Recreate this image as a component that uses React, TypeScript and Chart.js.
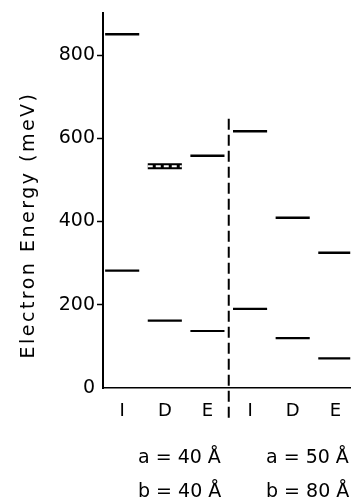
import React, { useEffect, useRef } from "react";
import { Chart, registerables } from "chart.js";

Chart.register(...registerables);

// Column categories (two sample groups separated by the dashed line)
const columnLabels = ["I", "D", "E", "I", "D", "E"];
// Energy levels (meV)
const upperLevels = [850, 533, 558, 617, 409, 325];
const lowerLevels = [282, 162, 137, 190, 120, 71];
const yTickValues = [0, 200, 400, 600, 800];
const groupLabelsA = ["a = 40 Å", "a = 50 Å"];
const groupLabelsB = ["b = 40 Å", "b = 80 Å"];
const yTitle = "Electron Energy (meV)";
const hatchedColumn = 1;
const dividerValueTop = 647;
const dividerValueBottom = -77;

const FONT = "'DejaVu Sans', sans-serif";

export default function App() {
  const ref = useRef<HTMLCanvasElement | null>(null);

  useEffect(() => {
    if (!ref.current) return;
    const datasets: any[] = [];
    const seg = (c: number, v: number) => [
      { x: c + 0.05, y: v },
      { x: c + 0.85, y: v },
    ];
    upperLevels.forEach((v, i) => {
      if (i === hatchedColumn) {
        datasets.push({ data: seg(i, v), borderColor: "#fff", borderWidth: 2, borderDash: [5, 3], pointRadius: 0, order: 0 });
        datasets.push({ data: seg(i, v), borderColor: "#000", borderWidth: 6, pointRadius: 0, order: 1 });
      } else {
        datasets.push({ data: seg(i, v), borderColor: "#000", borderWidth: 2.5, pointRadius: 0, order: 1 });
      }
    });
    lowerLevels.forEach((v, i) => {
      datasets.push({ data: seg(i, v), borderColor: "#000", borderWidth: 2.2, pointRadius: 0, order: 1 });
    });
    datasets.push({
      data: [
        { x: 2.95, y: dividerValueTop },
        { x: 2.95, y: dividerValueBottom },
      ],
      borderColor: "#000",
      borderWidth: 2,
      borderDash: [11, 5],
      pointRadius: 0,
      clip: false,
      order: 1,
    });

    const textPlugin = {
      id: "texts",
      afterDraw(chart: any) {
        const ctx = chart.ctx;
        ctx.save();
        ctx.fillStyle = "#000";
        ctx.font = `19px ${FONT}`;
        (ctx as any).letterSpacing = "2.5px";
        ctx.translate(29, 225);
        ctx.rotate(-Math.PI / 2);
        ctx.textAlign = "center";
        ctx.textBaseline = "middle";
        ctx.fillText(yTitle, 0, 0);
        ctx.restore();

        ctx.save();
        ctx.fillStyle = "#000";
        ctx.font = `19px ${FONT}`;
        ctx.textAlign = "left";
        ctx.textBaseline = "alphabetic";
        const xs = [138, 266];
        groupLabelsA.forEach((t, i) => ctx.fillText(t, xs[i], 463));
        groupLabelsB.forEach((t, i) => ctx.fillText(t, xs[i], 497));
        ctx.restore();
      },
    };

    const chart = new Chart(ref.current, {
      type: "line",
      data: { datasets },
      plugins: [textPlugin],
      options: {
        animation: false,
        responsive: false,
        layout: { padding: { top: 11, right: 0, left: 0, bottom: 0 } },
        plugins: { legend: { display: false }, tooltip: { enabled: false } },
        scales: {
          x: {
            type: "linear",
            min: 0,
            max: 5.8,
            afterBuildTicks: (s: any) => {
              s.ticks = columnLabels.map((_, i) => ({ value: i + 0.45 }));
            },
            afterFit: (s: any) => {
              s.height = 116;
            },
            ticks: {
              callback: (_v: any, i: number) => columnLabels[i],
              color: "#000",
              font: { family: FONT, size: 18 },
              padding: 13,
              maxRotation: 0,
              autoSkip: false,
            },
            grid: { display: true, drawOnChartArea: false, drawTicks: false },
            border: { display: true, color: "#000", width: 1.5 },
          },
          y: {
            type: "linear",
            min: 0,
            max: 900,
            afterBuildTicks: (s: any) => {
              s.ticks = yTickValues.map((v) => ({ value: v }));
            },
            afterFit: (s: any) => {
              s.width = 103;
            },
            ticks: {
              color: "#000",
              font: { family: FONT, size: 19 },
              padding: 2,
            },
            grid: {
              drawOnChartArea: false,
              drawTicks: true,
              tickLength: 6,
              tickWidth: 1.5,
              tickColor: (c: any) => (c.tick && c.tick.value === 0 ? "rgba(0,0,0,0)" : "#000"),
            },
            border: { display: true, color: "#000", width: 2 },
          },
        },
      },
    } as any);
    return () => chart.destroy();
  }, []);

  return (
    <div style={{ position: "absolute", left: 0, top: 0, width: 354, height: 504, background: "#fff" }}>
      <canvas ref={ref} width={354} height={504} style={{ display: "block" }} />
    </div>
  );
}
